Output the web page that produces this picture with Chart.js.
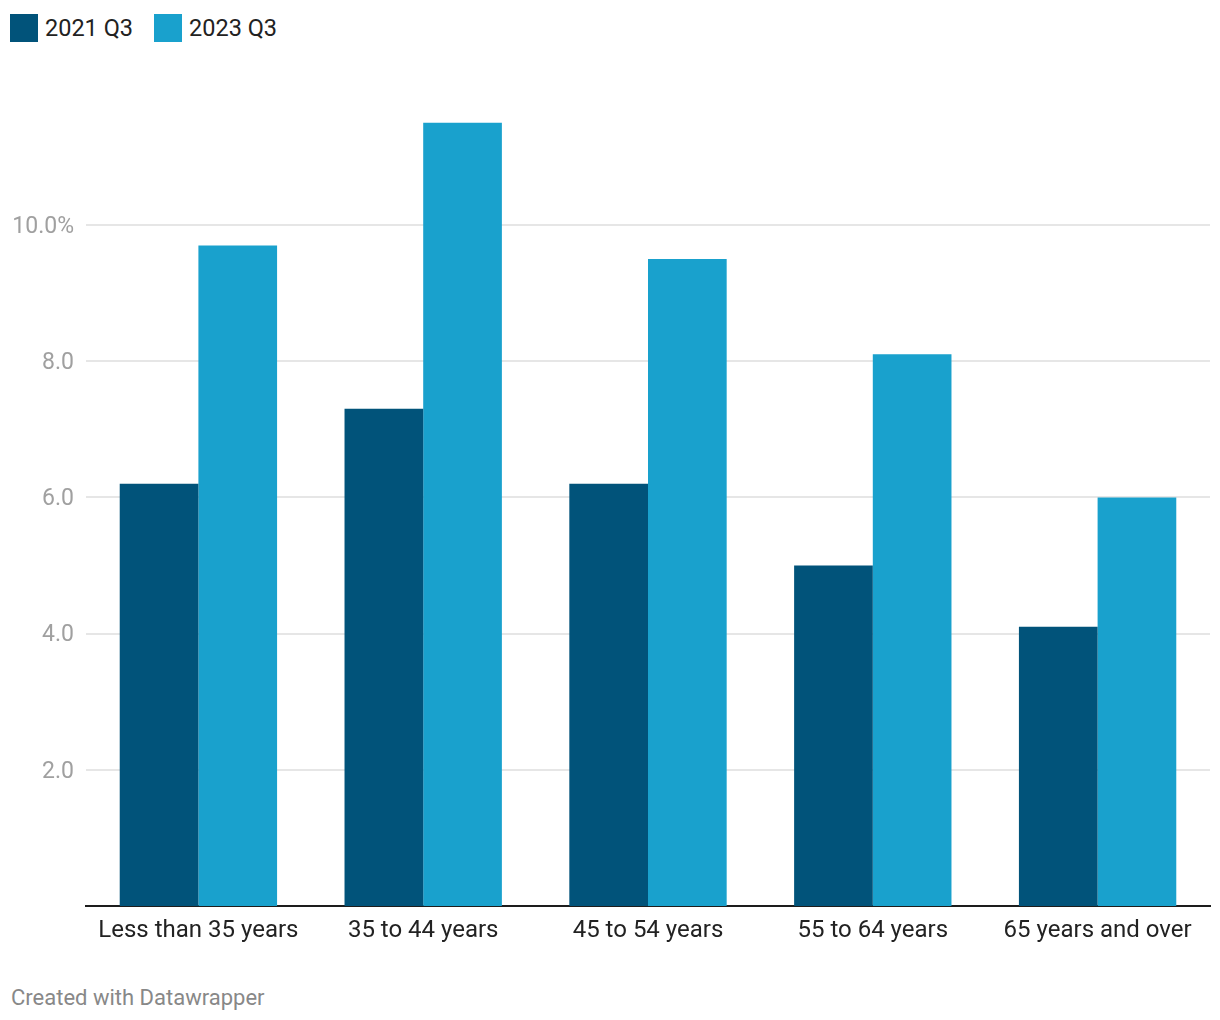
<!DOCTYPE html>
<html>
<head>
<meta charset="utf-8">
<script src="https://cdn.jsdelivr.net/npm/chart.js@4.4.1/dist/chart.umd.min.js"></script>
<style>
  body { margin: 0; background: #fff; font-family: Roboto, sans-serif; }
  #wrap { position: relative; width: 1220px; height: 1020px; }
  #legend { position: absolute; left: 10px; top: 14px; display: flex; }
  .item { display: flex; align-items: center; margin-right: 21px; font-size: 23.5px; color: #222; }
  .sw { width: 28px; height: 28px; margin-right: 7px; }
  #chartBox { position: absolute; left: 0; top: 60px; width: 1220px; height: 900px; }
  #foot { position: absolute; left: 11px; top: 985px; font-size: 22px; color: #888; }
</style>
</head>
<body>
<div id="wrap">
  <div id="legend"></div>
  <div id="chartBox"><canvas id="grafico"></canvas></div>
  <div id="foot">Created with Datawrapper</div>
</div>
<script>
// datos
const categorias = ['Less than 35 years', '35 to 44 years', '45 to 54 years', '55 to 64 years', '65 years and over'];
const series = ['2021 Q3', '2023 Q3'];
const valores2021 = [6.2, 7.3, 6.2, 5.0, 4.1];
const valores2023 = [9.7, 11.5, 9.5, 8.1, 6.0];
const ticksY = [2, 4, 6, 8, 10];
const colores = ['#01537a', '#19a1cd'];

// leyenda en html
const leyenda = document.getElementById('legend');
series.forEach((s, i) => {
    const el = document.createElement('div');
    el.className = 'item';
    el.innerHTML = '<span class="sw" style="background:' + colores[i] + '"></span>' + s;
    leyenda.appendChild(el);
});

const ctx = document.getElementById('grafico').getContext('2d');
new Chart(ctx, {
    type: 'bar',
    data: {
        labels: categorias,
        datasets: [
            { label: series[0], data: valores2021, backgroundColor: colores[0] },
            { label: series[1], data: valores2023, backgroundColor: colores[1] }
        ]
    },
    options: {
        responsive: true,
        maintainAspectRatio: false,
        animation: false,
        layout: { padding: { top: 28.75, right: 10, left: 0, bottom: 0 } },
        datasets: { bar: { categoryPercentage: 0.7, barPercentage: 1.0 } },
        plugins: { legend: { display: false }, tooltip: { enabled: false } },
        scales: {
            x: {
                grid: { display: false, drawTicks: false },
                border: { color: '#1d1d1d', width: 2 },
                ticks: { color: '#222', font: { family: 'Roboto', size: 24 }, padding: 11, maxRotation: 0 },
                afterFit: s => { s.height = 54; }
            },
            y: {
                min: 0,
                max: 12,
                afterBuildTicks: s => { s.ticks = ticksY.map(v => ({ value: v })); },
                grid: { color: '#e6e6e6', lineWidth: 2, drawTicks: false },
                border: { display: false },
                ticks: {
                    color: '#a0a0a0',
                    font: { family: 'Roboto', size: 23 },
                    padding: 12,
                    labelOffset: 2,
                    callback: v => v === 10 ? v.toFixed(1) + '%' : v.toFixed(1)
                },
                afterFit: s => { s.width = 86; }
            }
        }
    }
});
</script>
</body>
</html>
